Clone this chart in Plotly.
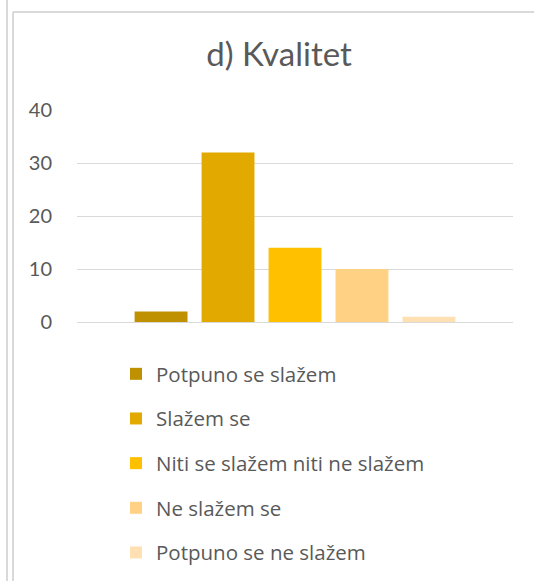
import plotly.graph_objects as go

title = "d) Kvalitet"
series = ["Potpuno se slažem", "Slažem se", "Niti se slažem niti ne slažem",
          "Ne slažem se", "Potpuno se ne slažem"]
values = [2, 32, 14, 10, 1]
colors = ["#bf9000", "#e2aa00", "#ffc000", "#ffd185", "#ffe0b3"]
category = [""]
y_ticks = [0, 10, 20, 30, 40]

W, H = 534, 581
L, R, T, B = 77, 21, 110, 259
FONT = "Lato"

fig = go.Figure()
for i, (name, v, c) in enumerate(zip(series, values, colors)):
    fig.add_trace(go.Bar(x=category, y=[v], name=name, marker_color=c,
                         marker_line_width=0, legendgroup=str(i)))

pw = W - L - R
ph = H - T - B
def px_x(x):
    return (x - L) / pw
def px_y(y):
    return (H - B - y) / ph

fig.update_layout(
    width=W, height=H,
    margin=dict(l=L, r=R, t=T, b=B, pad=0, autoexpand=False),
    paper_bgcolor="white", plot_bgcolor="white",
    barmode="group", bargap=0.232, bargroupgap=0.21,
    title=dict(text=title, x=px_x(279), xref="paper", xanchor="center",
               y=1 - 54 / H, yanchor="middle", yref="container",
               font=dict(family=FONT, size=33, color="#595959")),
    font=dict(family=FONT, color="#595959"),
    showlegend=True,
    legend=dict(orientation="v", x=px_x(116), xanchor="left",
                y=px_y(354), yanchor="top",
                font=dict(family="Open Sans", size=20.5, color="#595959"),
                tracegroupgap=15, itemwidth=30, bgcolor="rgba(0,0,0,0)"),
    xaxis=dict(showticklabels=False, showgrid=False, zeroline=False,
               showline=False, ticks=""),
    yaxis=dict(range=[0, 40], tickvals=y_ticks, showgrid=True,
               gridcolor="#d9d9d9", gridwidth=1.3, zeroline=True,
               zerolinecolor="#d9d9d9", zerolinewidth=1.3, showline=False,
               ticks="outside", ticklen=20, tickcolor="rgba(0,0,0,0)",
               tickfont=dict(family=FONT, size=20, color="#595959")),
)

line = dict(color="#d9d9d9", width=2)
fig.add_shape(type="line", xref="paper", yref="paper",
              x0=px_x(7), x1=px_x(7), y0=px_y(0), y1=px_y(H), line=line)
fig.add_shape(type="line", xref="paper", yref="paper",
              x0=px_x(13), x1=px_x(13), y0=px_y(12), y1=px_y(H), line=line)
fig.add_shape(type="line", xref="paper", yref="paper",
              x0=px_x(13), x1=px_x(W), y0=px_y(12), y1=px_y(12), line=line)

fig.write_html("out.html", config={"displayModeBar": False},
               post_script="document.body.style.margin='0';document.body.style.overflow='hidden';")
